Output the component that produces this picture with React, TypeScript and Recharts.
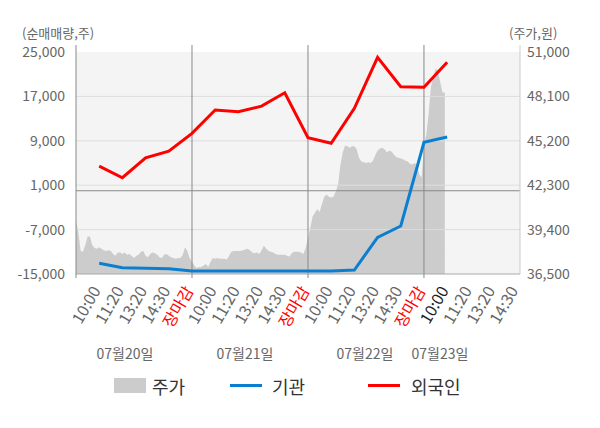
import React from "react";
import {
  ComposedChart,
  Area,
  Line,
  XAxis,
  YAxis,
  ReferenceArea,
  ReferenceLine,
} from "recharts";

const timeLabels = ["10:00", "11:20", "13:20", "14:30", "장마감"];
const dayLabels = ["07월20일", "07월21일", "07월22일", "07월23일"];

// net buying at each labelled time (10:00 day 1 .. 10:00 day 4)
const foreignNet = [
  4450, 2350, 5950, 7150, 10350, 14550, 14250, 15250, 17650, 9550, 8550,
  14850, 24050, 18750, 18650, 23150,
];
const institutionNet = [
  -13080, -13870, -13980, -14050, -14460, -14460, -14460, -14460, -14460,
  -14460, -14460, -14280, -8390, -6350, 8730, 9680,
];

// intraday price, one value every 0.1 label step
const price = [
  39950, 39280, 38000, 37950, 38400, 38950, 38950, 38400, 38200, 38150,
  38250, 38150, 38050, 38000, 38050, 38000, 37800, 37700, 37900, 37900,
  37800, 37900, 37750, 37800, 37700, 37550, 37700, 37750, 37950, 38000,
  37700, 37600, 37800, 37900, 37850, 37750, 37600, 37550, 37750, 37800,
  37700, 37600, 37550, 37500, 37550, 37550, 37750, 38250, 38000, 37550,
  37300, 37050, 36900, 36950, 36950, 37050, 37150, 36950, 37300, 37550,
  37500, 37550, 37500, 37500, 37500, 37450, 37700, 37950, 38000, 38000,
  38000, 38000, 38050, 38100, 38150, 38050, 37900, 37850, 37900, 37800,
  38050, 38350, 38150, 38000, 37950, 37900, 37800, 37750, 37750, 37750,
  37750, 37700, 37650, 37850, 37950, 37950, 37950, 37900, 37800, 38200,
  38850, 39500, 40250, 40500, 40750, 40550, 41050, 41550, 41700, 41550,
  41500, 41550, 41900, 42350, 43650, 44450, 44900, 44850, 44750, 44850,
  44850, 44650, 44100, 43850, 43800, 43750, 43800, 43750, 43900, 44250,
  44550, 44700, 44750, 44650, 44450, 44550, 44500, 44300, 44150, 44100,
  44050, 44000, 43900, 43850, 43700, 43650, 43750, 43600, 43000, 42800,
  44950, 45600, 46950, 48700, 49400, 49900, 49800, 49050, 48350, 48350,
];

const leftTicks = [-15000, -7000, 1000, 9000, 17000, 25000];
const rightTicks = [36500, 39400, 42300, 45200, 48100, 51000];
const dayBreaks = [5, 10, 15];

const X_MAX = 19.14;
const xTicks = Array.from({ length: 20 }, (_, i) => i);

const rows: any[] = [];
for (let i = 0; i <= foreignNet.length * 10; i++) {
  const row: any = { x: i / 10, price: i < price.length ? price[i] : null };
  if (i > 0 && i % 10 === 0) {
    row.foreign = foreignNet[i / 10 - 1];
    row.inst = institutionNet[i / 10 - 1];
  }
  rows.push(row);
}

const TimeTick = ({ x, y, payload }: any) => {
  const s = payload.value;
  const label = s > 0 ? timeLabels[(s - 1) % 5] : "";
  const color = label === "장마감" ? "#ff0000" : s === 16 ? "#222" : "#666";
  const ax = x - 4;
  const ay = y + 13;
  return (
    <g>
      {s % 5 === 0 && (
        <line x1={x} x2={x} y1={y} y2={y + 4} stroke="#888" />
      )}
      {label && (
        <text
          x={ax}
          y={ay}
          transform={`rotate(-60 ${ax} ${ay})`}
          textAnchor="end"
          dominantBaseline="central"
          fill={color}
          fontSize={16}
        >
          {label}
        </text>
      )}
    </g>
  );
};

const dayPos = [125, 245, 365, 440];

export default function App() {
  return (
    <div
      style={{
        position: "absolute",
        left: 0,
        top: 0,
        width: 600,
        height: 428,
        background: "#fff",
        fontFamily: "'Noto Sans CJK KR', 'Noto Sans', sans-serif",
      }}
    >
      <div style={{ position: "absolute", left: 22, top: 26, fontSize: 13, lineHeight: "14px", color: "#666" }}>
        (순매매량,주)
      </div>
      <div style={{ position: "absolute", left: 509, top: 26, fontSize: 13, lineHeight: "14px", color: "#666" }}>
        (주가,원)
      </div>
      <ComposedChart
        width={600}
        height={428}
        data={rows}
        margin={{ top: 45, right: 0, bottom: 0, left: 0 }}
      >
        <ReferenceArea
          yAxisId="left"
          x1={0}
          x2={X_MAX}
          y1={-15000}
          y2={25000}
          fill="#f4f4f4"
          fillOpacity={1}
          stroke="none"
        />
        <XAxis
          dataKey="x"
          type="number"
          domain={[0, X_MAX]}
          ticks={xTicks}
          interval={0}
          tick={<TimeTick />}
          tickLine={false}
          tickSize={0}
          tickMargin={0}
          axisLine={{ stroke: "#aaa" }}
          height={154}
          allowDataOverflow
        />
        <YAxis
          yAxisId="left"
          orientation="left"
          width={76}
          domain={[-15000, 26267]}
          ticks={leftTicks}
          tickFormatter={(v) => v.toLocaleString("en-US")}
          tick={{ fill: "#666", fontSize: 14 }}
          tickLine={false}
          tickSize={6}
          tickMargin={5}
          axisLine={{ stroke: "#888" }}
          allowDataOverflow
        />
        <YAxis
          yAxisId="right"
          orientation="right"
          width={80}
          domain={[36500, 51459]}
          ticks={rightTicks}
          tickFormatter={(v) => v.toLocaleString("en-US")}
          tick={{ fill: "#666", fontSize: 14, textAnchor: "start" }}
          tickLine={false}
          tickSize={6}
          tickMargin={1}
          axisLine={{ stroke: "#ccc" }}
          allowDataOverflow
        />
        <Area
          yAxisId="right"
          dataKey="price"
          type="linear"
          fill="#cccccc"
          fillOpacity={1}
          stroke="none"
          isAnimationActive={false}
        />
        {leftTicks.slice(1, -1).map((t) => (
          <ReferenceLine key={t} yAxisId="left" y={t} stroke="#dddddd" />
        ))}
        <ReferenceLine yAxisId="left" y={0} stroke="#888" />
        {dayBreaks.map((d) => (
          <ReferenceLine key={d} yAxisId="left" x={d} stroke="#888" />
        ))}
        <Line
          yAxisId="left"
          dataKey="inst"
          type="linear"
          stroke="#0a7fd0"
          strokeWidth={3}
          dot={false}
          connectNulls
          isAnimationActive={false}
        />
        <Line
          yAxisId="left"
          dataKey="foreign"
          type="linear"
          stroke="#ff0000"
          strokeWidth={3}
          dot={false}
          connectNulls
          isAnimationActive={false}
        />
      </ComposedChart>
      {dayLabels.map((d, i) => (
        <div
          key={d}
          style={{
            position: "absolute",
            left: dayPos[i] - 40,
            width: 80,
            top: 343,
            textAlign: "center",
            fontSize: 14,
            color: "#666",
          }}
        >
          {d}
        </div>
      ))}
      <div style={{ position: "absolute", top: 374, left: 0, width: 600, height: 24, fontSize: 18, color: "#333" }}>
        <div style={{ position: "absolute", left: 114, top: 4, width: 32, height: 15, background: "#cccccc" }} />
        <div style={{ position: "absolute", left: 152, top: -1 }}>주가</div>
        <div style={{ position: "absolute", left: 230, top: 10, width: 32, height: 3, background: "#0a7fd0" }} />
        <div style={{ position: "absolute", left: 272, top: -1 }}>기관</div>
        <div style={{ position: "absolute", left: 368, top: 10, width: 32, height: 3, background: "#ff0000" }} />
        <div style={{ position: "absolute", left: 411, top: -1 }}>외국인</div>
      </div>
    </div>
  );
}
